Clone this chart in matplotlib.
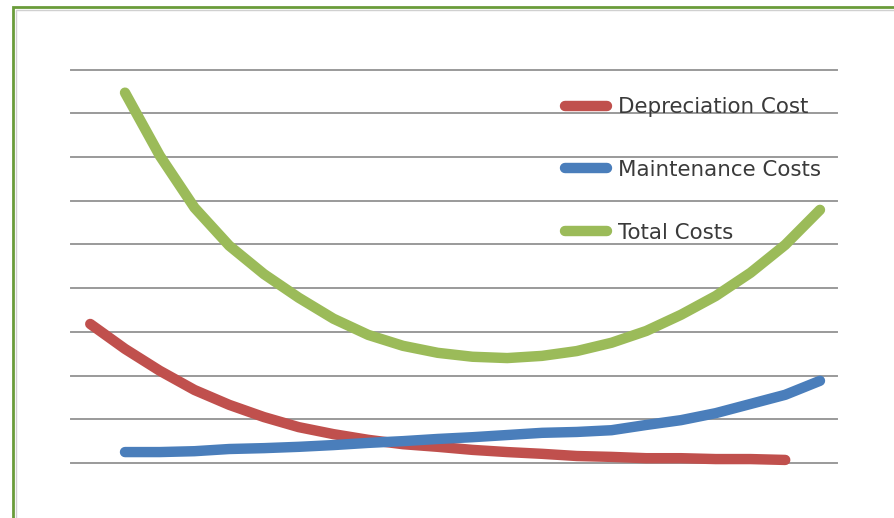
import matplotlib
matplotlib.use('Agg')
import matplotlib.pyplot as plt
from matplotlib.patches import Rectangle

# years of ownership; depreciation is booked one period earlier
years = list(range(1, 22))
dep_years = list(range(0, 21))

depreciation = [3.18, 2.61, 2.11, 1.67, 1.33, 1.05, 0.82, 0.66, 0.53, 0.43, 0.37,
                0.30, 0.25, 0.21, 0.16, 0.14, 0.11, 0.11, 0.09, 0.09, 0.07]
maintenance = [0.25, 0.25, 0.27, 0.32, 0.34, 0.37, 0.41, 0.46, 0.50, 0.55, 0.59,
               0.64, 0.69, 0.71, 0.75, 0.87, 0.98, 1.14, 1.35, 1.56, 1.88]
total = [8.47, 7.03, 5.84, 4.97, 4.32, 3.78, 3.30, 2.93, 2.68, 2.52, 2.43,
         2.40, 2.45, 2.56, 2.75, 3.02, 3.39, 3.82, 4.35, 4.99, 5.79]

labels = ['Depreciation Cost', 'Maintenance Costs', 'Total Costs']
colors = ['#c0504d', '#4a7ebb', '#9bbb59']

W, H = 894, 518
fig = plt.figure(figsize=(W/100, H/100), dpi=100)
ax = fig.add_axes([71/W, 1-463/H, (837-71)/W, (463-69.5)/H])

for g in range(10):
    ax.axhline(g, color='#9a9a9a', lw=1.4, zorder=1, clip_on=False)

series = [(dep_years, depreciation), (years, maintenance), (years, total)]
for (xs, ys), lab, c in zip(series, labels, colors):
    ax.plot(xs, ys, color=c, lw=7.5, label=lab, solid_capstyle='round',
            solid_joinstyle='round', zorder=3, clip_on=False)

ax.set_xlim(-0.554, 21.49)
ax.set_ylim(0, 9)
ax.axis('off')

leg = ax.legend(loc='upper left', bbox_to_anchor=(565/W, 1-97/H),
                bbox_transform=fig.transFigure, frameon=False, borderpad=0,
                borderaxespad=0, fontsize=15.4, handlelength=1.95,
                handletextpad=0.55, labelspacing=2.0)
for t in leg.get_texts():
    t.set_color('#3a3a3a')

# outer frame, only left and top edges fall inside the canvas
fig.patches.append(Rectangle((13/W, -0.2), 1.2, 1.2 - 7/H, transform=fig.transFigure,
                             fill=False, ec='#6a9c3a', lw=2, zorder=0))
fig.patches.append(Rectangle((15.5/W, -0.2), 1.2, 1.2 - 9.5/H, transform=fig.transFigure,
                             fill=False, ec='#d0d0d0', lw=1, zorder=0))

fig.savefig('out.png', dpi=100)
